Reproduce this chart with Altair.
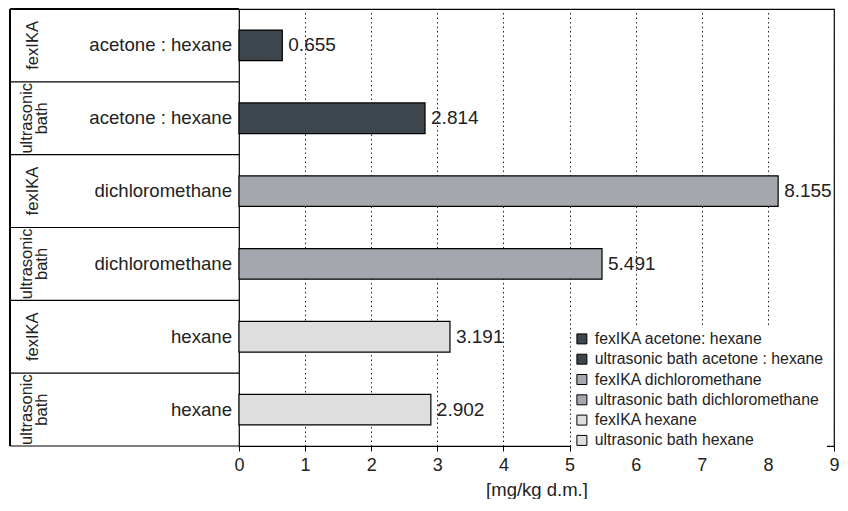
import altair as alt
import pandas as pd

methods = ["fexIKA", "ultrasonic\nbath", "fexIKA", "ultrasonic\nbath", "fexIKA", "ultrasonic\nbath"]
solvents = ["acetone : hexane", "acetone : hexane", "dichloromethane", "dichloromethane", "hexane", "hexane"]
series = [
    "fexIKA acetone: hexane",
    "ultrasonic bath acetone : hexane",
    "fexIKA dichloromethane",
    "ultrasonic bath dichloromethane",
    "fexIKA hexane",
    "ultrasonic bath hexane",
]
values = [0.655, 2.814, 8.155, 5.491, 3.191, 2.902]
colors = ["#3d464c", "#3d464c", "#a4a7ad", "#a4a7ad", "#dedede", "#dedede"]
x_ticks = [0, 1, 2, 3, 4, 5, 6, 7, 8, 9]

df = pd.DataFrame({"method": methods, "solvent": solvents, "series": series, "value": values})

W, H = 595, 437
LEFT = -229
FONT = "Liberation Sans"

yenc = alt.Y("series:N", sort=series, axis=None,
             scale=alt.Scale(paddingInner=0, paddingOuter=0))

base = alt.Chart(df)

bars = base.mark_bar(height=alt.RelativeBandSize(0.42), stroke="black", strokeWidth=1.2).encode(
    x=alt.X("value:Q", scale=alt.Scale(domain=[0, 9], nice=False),
            axis=alt.Axis(values=x_ticks, format="d", grid=True, gridDash=[1.5, 3], gridColor="#222",
                          gridWidth=1, domainColor="black", domainWidth=1.2, tickColor="black",
                          tickSize=5, labelFontSize=18, labelPadding=5, labelColor="#222",
                          labelFlush=False,
                          title="[mg/kg d.m.]", titleFontSize=18.5, titleFontWeight="normal",
                          titleColor="#222", titlePadding=6)),
    y=yenc,
    color=alt.Color("series:N", sort=series,
                    scale=alt.Scale(domain=series, range=colors),
                    legend=alt.Legend(orient="none", legendX=332, legendY=319, title=None,
                                      fillColor="white", padding=3, labelFontSize=15.8,
                                      labelColor="#222", symbolType="square", symbolSize=100,
                                      symbolStrokeColor="black", symbolStrokeWidth=1,
                                      labelLimit=400, rowPadding=3.3, labelOffset=5)),
)

value_text = base.mark_text(align="left", baseline="middle", dx=6, fontSize=19, color="#222").encode(
    x="value:Q", y=yenc, text=alt.Text("value:Q", format=".3f"))

solvent_text = base.mark_text(align="right", baseline="middle", fontSize=18.6, color="#222").encode(
    x=alt.value(-7), y=yenc, text="solvent:N")

method_one = base.transform_filter("indexof(datum.method, '\\n') < 0").mark_text(
    angle=270, align="center", baseline="middle", fontSize=16.5, color="#222").encode(
    x=alt.value(-206), y=yenc, text="method:N")

method_two = base.transform_filter("indexof(datum.method, '\\n') >= 0").mark_text(
    angle=270, align="center", baseline="middle", fontSize=16.5, lineBreak="\n",
    lineHeight=15, dy=-7.5, color="#222").encode(
    x=alt.value(-205), y=yenc, text="method:N")

row_rules = base.mark_rule(color="black", strokeWidth=1.2).encode(
    y=alt.Y("series:N", sort=series, axis=None, bandPosition=1,
            scale=alt.Scale(paddingInner=0, paddingOuter=0)),
    x=alt.value(LEFT), x2=alt.value(0))

top_rule = base.mark_rule(color="black", strokeWidth=1.2).encode(
    y=alt.value(0), x=alt.value(LEFT), x2=alt.value(0))

left_rule = base.mark_rule(color="black", strokeWidth=1.2).encode(
    x=alt.value(LEFT), y=alt.value(0), y2=alt.value(H))

chart = alt.layer(bars, value_text, solvent_text, method_one, method_two, row_rules,
                  top_rule, left_rule).properties(
    width=W, height=H, padding={"left": 1, "top": 0, "right": 0, "bottom": 0}
).configure(font=FONT).configure_view(stroke="black", strokeWidth=1.2)

chart.save("out.html", embed_options={"renderer": "svg", "actions": False})
